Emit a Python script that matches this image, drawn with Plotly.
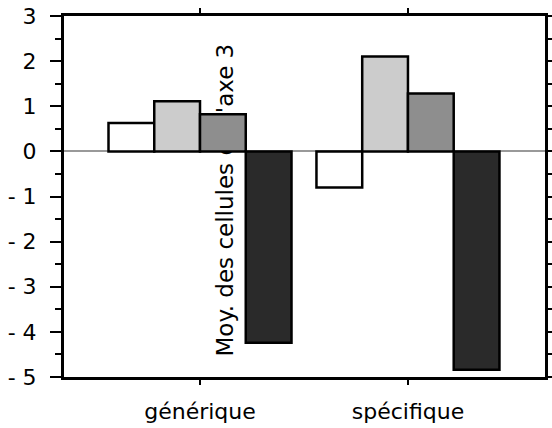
import plotly.graph_objects as go

categories = ["générique", "spécifique"]
serie_blanche = [0.63, -0.80]
serie_claire = [1.11, 2.10]
serie_moyenne = [0.82, 1.28]
serie_sombre = [-4.24, -4.84]
y_ticks = [-5, -4, -3, -2, -1, 0, 1, 2, 3]
y_labels = ["- 5", "- 4", "- 3", "- 2", "- 1", "0", "1", "2", "3"]
titre_y = "Moy. des cellules de l'axe 3"

couleurs = ["#ffffff", "#cccccc", "#8e8e8e", "#2a2a2a"]
series = [serie_blanche, serie_claire, serie_moyenne, serie_sombre]

fig = go.Figure()
for vals, coul in zip(series, couleurs):
    fig.add_trace(go.Bar(
        x=categories, y=vals,
        marker=dict(color=coul, line=dict(color="black", width=2.5)),
        showlegend=False,
    ))

police = dict(family="DejaVu Sans", size=22, color="black")

fig.update_layout(
    width=552, height=428,
    margin=dict(l=64, r=7, t=16, b=51),
    paper_bgcolor="white", plot_bgcolor="white",
    barmode="group", bargap=0.12, bargroupgap=0,
    font=police,
)
fig.update_xaxes(
    range=[-0.654, 1.659], automargin=False,
    showline=True, linecolor="black", linewidth=3, mirror="ticks",
    ticks="outside", ticklen=5, tickwidth=2, tickcolor="black",
    showgrid=False, ticklabelstandoff=8,
)
fig.update_yaxes(
    range=[-5, 3], tickmode="array", tickvals=y_ticks, ticktext=y_labels,
    automargin=False,
    showline=True, linecolor="black", linewidth=3, mirror="ticks",
    ticks="outside", ticklen=11, tickwidth=2, tickcolor="black",
    minor=dict(tickmode="linear", tick0=0, dtick=0.5, ticks="outside",
               ticklen=6, tickwidth=2, tickcolor="black"),
    showgrid=False, zeroline=True, zerolinecolor="#999999", zerolinewidth=2,
    ticklabelstandoff=9,
)
# titre de l'axe placé dans la zone du graphe, derrière les barres
fig.add_shape(
    type="rect", xref="paper", yref="paper",
    x0=0.30, x1=0.36, y0=0.0, y1=0.98,
    line=dict(width=0), fillcolor="rgba(0,0,0,0)", layer="below",
    label=dict(text=titre_y, textangle=-90, textposition="middle center",
               font=dict(family="DejaVu Sans", size=23, color="black")),
)

# pas de marge autour du graphique dans la page
fig.write_html("out.html", config={"displayModeBar": False},
               post_script="document.body.style.margin='0px';")
